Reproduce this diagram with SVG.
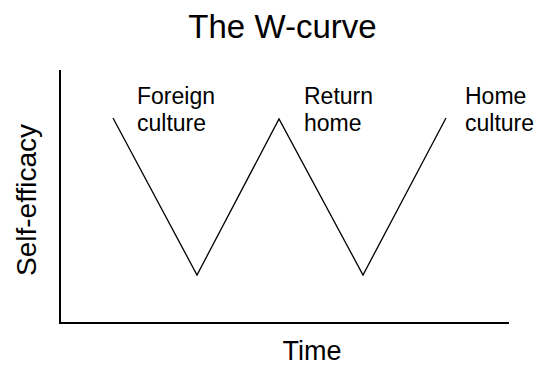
<svg xmlns="http://www.w3.org/2000/svg" width="538" height="365" viewBox="0 0 538 365">
<style>
text{font-family:"Liberation Sans",Arial,sans-serif;fill:#000}
.lbl{font-size:23px}
.ln{stroke:#000;fill:none}
</style>
<rect width="538" height="365" fill="#fff"/>
<text id="title" x="282.5" y="38" font-size="33" text-anchor="middle">The W-curve</text>
<g id="axes">
<path class="ln" stroke-width="2" d="M60 70 V323 H509"/>
</g>
<g id="connectors">
<polyline class="ln" stroke-width="1.3" points="113,118 197,275 279,119 363,275 446,118"/>
</g>
<g id="foreign"><text class="lbl" x="137" y="104">Foreign</text><text class="lbl" x="137" y="131">culture</text></g>
<g id="return"><text class="lbl" x="304" y="104">Return</text><text class="lbl" x="304" y="131">home</text></g>
<g id="home"><text class="lbl" x="465" y="104">Home</text><text class="lbl" x="465" y="131">culture</text></g>
<text id="ylabel" font-size="28" text-anchor="middle" transform="translate(36,200) rotate(-90)">Self-efficacy</text>
<text id="xlabel" x="312" y="360" font-size="27" text-anchor="middle">Time</text>
</svg>
